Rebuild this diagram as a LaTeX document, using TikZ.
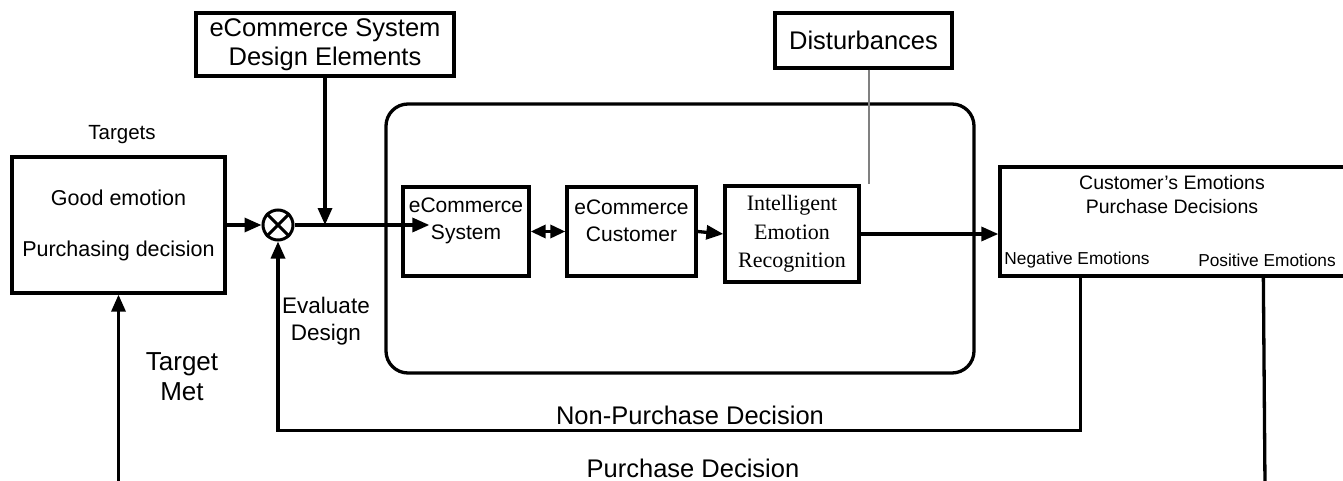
\documentclass[tikz,border=0pt]{standalone}
\usepackage{fontspec}
\setmainfont{Liberation Sans}
\newfontfamily\timesfam{Liberation Serif}
\usetikzlibrary{arrows.meta,calc}

\begin{document}
\begin{tikzpicture}[x=1pt,y=-1pt,
  line width=3.3pt,
  blk/.style={draw, line width=3.3pt, inner sep=0pt, align=center},
  txt/.style={inner sep=0pt, align=center},
  flow/.style={-{Triangle[length=17pt,width=14pt]}},
  both/.style={{Triangle[length=15pt,width=13pt]}-{Triangle[length=15pt,width=13pt]}},
  big/.style={font=\fontsize{25.5}{29}\selectfont},
  mid/.style={font=\fontsize{21}{27}\selectfont},
  small/.style={font=\fontsize{17.3}{20}\selectfont},
]
\clip (0,0) rectangle (1343,481);

% targets block
\node[txt, font=\fontsize{20.5}{22}\selectfont] (tlabel) at (122,135) {Targets};
\node[blk, minimum width=213pt, minimum height=136pt,
      font=\fontsize{21.5}{51}\selectfont] (tgt) at (118.5,225)
      {Good emotion\\Purchasing decision};

% comparator
\node[draw, circle, line width=3pt, minimum size=30pt, inner sep=0pt] (sum) at (278,225) {};
\draw[line width=3pt] (sum.north west) -- (sum.south east)
                      (sum.north east) -- (sum.south west);

% design elements
\node[blk, big, minimum width=258pt, minimum height=63pt] (de) at (325,44.5)
      {eCommerce System\\Design Elements};

% disturbances
\node[blk, big, minimum width=177pt, minimum height=55pt] (dist) at (863.5,40.5)
      {Disturbances};

% plant enclosure
\node[draw, line width=3.3pt, rounded corners=22pt, minimum width=588pt,
      minimum height=269pt, inner sep=0pt] (plant) at (680,238.5) {};

% inner blocks
\node[blk, minimum width=126pt, minimum height=89pt] (sys) at (466,231.5) {};
\node[txt, mid] (systxt) at (466,221) {eCommerce\\System};
\node[blk, minimum width=129pt, minimum height=89pt] (cust) at (631.5,231.5) {};
\node[txt, mid] (custtxt) at (631.5,221) {eCommerce\\Customer};
\node[blk, minimum width=134pt, minimum height=96pt,
      font=\timesfam\fontsize{22}{28.5}\selectfont] (iem) at (792,234)
      {Intelligent\\Emotion\\Recognition};

% output block (runs past the right edge)
\node[blk, minimum width=350pt, minimum height=109pt] (emo) at (1175,221.5) {};
\node[txt, font=\fontsize{19.5}{24}\selectfont] (emotxt) at (1172,195)
      {Customer’s Emotions\\Purchase Decisions};
\node[txt, small] (neg) at (1077,260) {Negative Emotions};
\node[txt, small] (pos) at (1267,260) {Positive Emotions};

% side labels
\node[txt, font=\fontsize{26}{30}\selectfont] (met) at (182,377) {Target\\Met};
\node[txt, font=\fontsize{22.5}{27}\selectfont] (eval) at (326,321) {Evaluate\\Design};
\node[txt, big] (nonp) at (690,415) {Non-Purchase Decision};
\node[txt, big] (purch) at (693,468) {Purchase Decision};

% connection points
\coordinate (join) at (de.south |- sum.east);
\coordinate (negout) at ([xshift=82pt]emo.south west);
\coordinate (posout) at ([xshift=265pt]emo.south west);
\coordinate (posend) at (1265,486);
\coordinate (metstart) at (118.5,486);

% signal paths
\draw[flow] (tgt.east) -- (sum.west);
\draw (sum.east) -- (join);
\draw[flow] (join) -- ([xshift=28pt]sum.east -| sys.west);
\draw[flow] (de.south) -- (join);
\draw[both] (sys.east) -- (cust.west);
\draw[flow] (cust.east) -- (iem.west);
\draw[flow] (iem.east) -- (iem.east -| emo.west);
\draw[line width=1.3pt, gray] ([xshift=5.5pt]dist.south) -- ([xshift=5.5pt]dist.south |- iem.north);
\draw[flow] (negout) -- ++(0,153) -| (sum.south);
\draw (posout) -- (posend);
\draw[flow] (metstart) -- (tgt.south);
\end{tikzpicture}
\end{document}
